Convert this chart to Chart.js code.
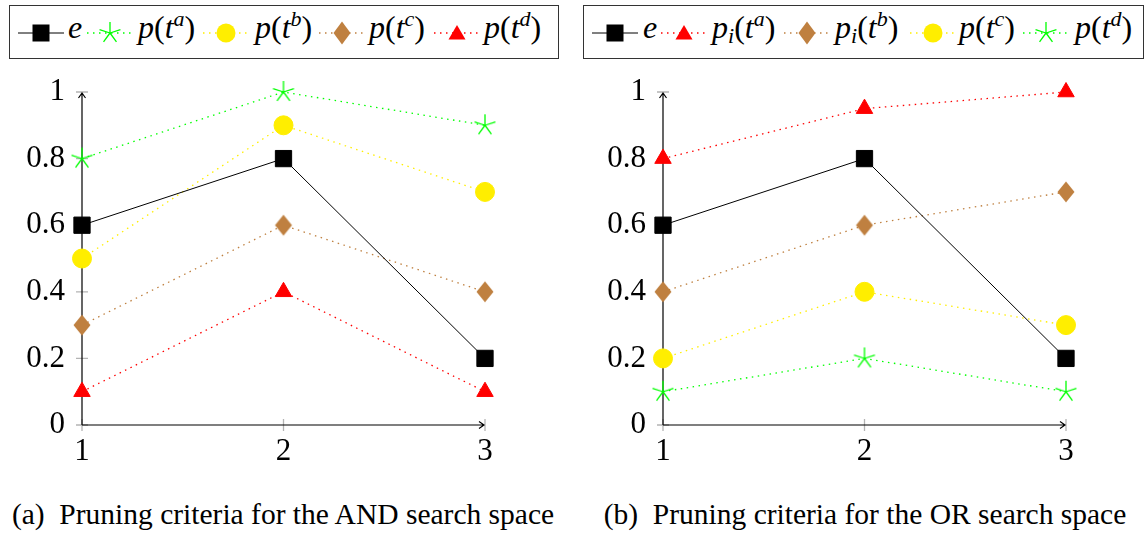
<!DOCTYPE html>
<html>
<head>
<meta charset="utf-8">
<script src="https://cdn.jsdelivr.net/npm/chart.js@4.4.0/dist/chart.umd.min.js"></script>
<style>
  body { margin: 0; width: 1145px; height: 534px; background: #fff; position: relative; overflow: hidden; font-family: "Liberation Serif", serif; }
  .panel { position: absolute; top: 70px; }
  .box { position: absolute; top: 5px; height: 54px; border: 1.4px solid #333; box-sizing: border-box; }
  .mk { position: absolute; top: 21px; height: 24px; }
  .lab { position: absolute; top: 11px; font-size: 32px; line-height: 1; font-style: italic; white-space: nowrap; color: #000; }
  .lab .u { font-style: normal; }
  .lab .sup { font-size: 22px; position: relative; top: -12px; }
  .lab .sub { font-size: 22px; position: relative; top: 5px; }
  .cap { position: absolute; top: 498px; font-size: 29.5px; white-space: nowrap; transform: translateX(-50%); }
</style>
</head>
<body>
<div class="box" style="left:9px;width:550px"></div>
<div class="box" style="left:583px;width:561px"></div>
<div id="legA"></div>
<div id="legB"></div>
<div class="panel" style="left:0px"><canvas id="chartA" width="572" height="410"></canvas></div>
<div class="panel" style="left:581px"><canvas id="chartB" width="564" height="410"></canvas></div>
<div class="cap" style="left:283px">(a)&nbsp; Pruning criteria for the AND search space</div>
<div class="cap" style="left:865px">(b)&nbsp; Pruning criteria for the OR search space</div>
<script>
const xValues = [1, 2, 3];
const xTickLabels = ["1", "2", "3"];
const yTickLabels = ["0", "0.2", "0.4", "0.6", "0.8", "1"];

// (a) AND search space
const andE = [0.6, 0.8, 0.2];
const andPa = [0.8, 1, 0.9];
const andPb = [0.5, 0.9, 0.7];
const andPc = [0.3, 0.6, 0.4];
const andPd = [0.1, 0.4, 0.1];

// (b) OR search space
const orE = [0.6, 0.8, 0.2];
const orPia = [0.8, 0.95, 1];
const orPib = [0.4, 0.6, 0.7];
const orPc = [0.2, 0.4, 0.3];
const orPd = [0.1, 0.2, 0.1];

const GREEN = "#00ff00";
const YELLOW = "#ffee00";
const BROWN = "#bf8040";
const RED = "#ff0000";
const FONT = "'Liberation Serif', serif";

const makeStar = (color) => {
  const c = document.createElement("canvas");
  c.width = 26; c.height = 26;
  const g = c.getContext("2d");
  g.strokeStyle = color;
  g.lineWidth = 1.3;
  g.beginPath();
  for (let k = 0; k < 5; k++) {
    const a = -Math.PI / 2 + k * 2 * Math.PI / 5;
    g.moveTo(13, 13);
    g.lineTo(13 + 11 * Math.cos(a), 13 + 11 * Math.sin(a));
  }
  g.stroke();
  return c;
};

const makeDiamond = (color) => {
  const c = document.createElement("canvas");
  c.width = 20; c.height = 24;
  const g = c.getContext("2d");
  g.fillStyle = color;
  g.beginPath();
  g.moveTo(10, 1.5); g.lineTo(18.5, 12); g.lineTo(10, 22.5); g.lineTo(1.5, 12);
  g.closePath();
  g.fill();
  return c;
};

const starImg = makeStar(GREEN);
const diamondImg = makeDiamond(BROWN);

const toPoints = (vals) => vals.map((v, i) => ({ x: xValues[i], y: v }));

const series = (label, vals, color, style, radius, solid) => ({
  label,
  data: toPoints(vals),
  borderColor: color,
  backgroundColor: color,
  borderWidth: solid ? 1 : 1.3,
  borderDash: solid ? [] : [1.5, 4.5],
  pointStyle: style,
  pointRadius: radius,
  pointBackgroundColor: color,
  pointBorderColor: color,
  pointBorderWidth: 1,
  tension: 0,
  clip: false,
});

const axesPlugin = {
  id: "axes",
  beforeDatasetsDraw(chart) {
    const { ctx, scales: { x, y } } = chart;
    const x0 = x.getPixelForValue(1), x1 = x.getPixelForValue(3);
    const y0 = y.getPixelForValue(0), y1 = y.getPixelForValue(1);
    ctx.save();
    ctx.strokeStyle = "#b4b4b4";
    ctx.lineWidth = 1.3;
    ctx.beginPath();
    y.ticks.forEach((t) => {
      const py = y.getPixelForValue(t.value);
      ctx.moveTo(x0 - 6, py); ctx.lineTo(x0 + 6, py);
    });
    x.ticks.forEach((t) => {
      const px = x.getPixelForValue(t.value);
      ctx.moveTo(px, y0 - 6); ctx.lineTo(px, y0 + 6);
    });
    ctx.stroke();
    ctx.strokeStyle = "#000";
    ctx.lineWidth = 1.2;
    ctx.beginPath();
    ctx.moveTo(x0, y0); ctx.lineTo(x0, y1 + 1);
    ctx.moveTo(x0, y0); ctx.lineTo(x1 - 1, y0);
    ctx.moveTo(x0 - 3.5, y1 + 6); ctx.lineTo(x0, y1 + 1); ctx.lineTo(x0 + 3.5, y1 + 6);
    ctx.moveTo(x1 - 6, y0 - 3.5); ctx.lineTo(x1 - 1, y0); ctx.lineTo(x1 - 6, y0 + 3.5);
    ctx.stroke();
    ctx.restore();
  },
};

const makeChart = (id, datasets, padRight) => {
  new Chart(document.getElementById(id), {
    type: "line",
    data: { datasets },
    options: {
      responsive: false,
      animation: false,
      layout: { padding: { top: 22, right: padRight, bottom: 0, left: 0 } },
      plugins: { legend: { display: false }, tooltip: { enabled: false } },
      scales: {
        x: {
          type: "linear", min: 1, max: 3,
          afterBuildTicks: (s) => { s.ticks = xValues.map((v) => ({ value: v })); },
          afterFit: (s) => { s.height = 55; s.paddingLeft = 0; s.paddingRight = 0; },
          grid: { display: false, drawTicks: false },
          border: { display: false },
          ticks: { padding: 8, color: "#000", font: { family: FONT, size: 31 }, maxRotation: 0,
            callback: (v, i) => xTickLabels[i] },
        },
        y: {
          type: "linear", min: 0, max: 1,
          afterBuildTicks: (s) => { s.ticks = yTickLabels.map((v) => ({ value: Number(v) })); },
          afterFit: (s) => { s.width = 82; s.paddingTop = 0; s.paddingBottom = 0; },
          grid: { display: false, drawTicks: false },
          border: { display: false },
          ticks: { padding: 17, color: "#000", font: { family: FONT, size: 31 },
            callback: (v, i) => yTickLabels[i] },
        },
      },
    },
    plugins: [axesPlugin],
  });
};

makeChart("chartA", [
  series("e", andE, "#000", "rect", 11.5, true),
  series("p(t^a)", andPa, GREEN, starImg, 11, false),
  series("p(t^b)", andPb, YELLOW, "circle", 9.5, false),
  series("p(t^c)", andPc, BROWN, diamondImg, 10, false),
  series("p(t^d)", andPd, RED, "triangle", 9.5, false),
], 87);

makeChart("chartB", [
  series("e", orE, "#000", "rect", 11.5, true),
  series("p_i(t^a)", orPia, RED, "triangle", 9.5, false),
  series("p_i(t^b)", orPib, BROWN, diamondImg, 10, false),
  series("p(t^c)", orPc, YELLOW, "circle", 9.5, false),
  series("p(t^d)", orPd, GREEN, starImg, 11, false),
], 79);

// legend (html, so the super/subscripts stay real text)
const markerSvg = (shape, color) => {
  const cx = 23;
  if (shape === "rect") return `<rect x="${cx - 8.5}" y="3.5" width="17" height="17" fill="${color}"/>`;
  if (shape === "circle") return `<circle cx="${cx}" cy="12" r="9.5" fill="${color}"/>`;
  if (shape === "diamond") return `<polygon points="${cx},0.5 ${cx + 8.5},12 ${cx},23.5 ${cx - 8.5},12" fill="${color}"/>`;
  if (shape === "triangle") return `<polygon points="${cx},4 ${cx + 8.5},18.5 ${cx - 8.5},18.5" fill="${color}"/>`;
  let d = "";
  for (let k = 0; k < 5; k++) {
    const a = -Math.PI / 2 + k * 2 * Math.PI / 5;
    d += `M${cx} 12 L${(cx + 11 * Math.cos(a)).toFixed(2)} ${(12 + 11 * Math.sin(a)).toFixed(2)} `;
  }
  return `<path d="${d}" stroke="${color}" stroke-width="1.3" fill="none"/>`;
};

const legendItem = (lineLeft, labelLeft, shape, color, solid, html) => {
  const dash = solid ? "" : ` stroke-dasharray="1.5 4.5"`;
  return `<svg class="mk" style="left:${lineLeft}px" width="46" height="24">` +
    `<line x1="0" y1="12" x2="46" y2="12" stroke="${color}" stroke-width="${solid ? 1 : 1.3}"${dash}/>` +
    markerSvg(shape, color) + `</svg>` +
    `<span class="lab" style="left:${labelLeft}px">${html}</span>`;
};

const pt = (base, sup, sub) =>
  `${base}${sub ? `<span class="sub">${sub}</span>` : ""}<span class="u">(</span>t<span class="sup">${sup}</span><span class="u">)</span>`;

document.getElementById("legA").innerHTML =
  legendItem(18, 68, "rect", "#000", true, "e") +
  legendItem(87, 138, "star", GREEN, false, pt("p", "a")) +
  legendItem(203, 255, "circle", YELLOW, false, pt("p", "b")) +
  legendItem(319, 369, "diamond", BROWN, false, pt("p", "c")) +
  legendItem(434, 484, "triangle", RED, false, pt("p", "d"));

document.getElementById("legB").innerHTML =
  legendItem(592, 643, "rect", "#000", true, "e") +
  legendItem(661, 712, "triangle", RED, false, pt("p", "a", "i")) +
  legendItem(784, 835, "diamond", BROWN, false, pt("p", "b", "i")) +
  legendItem(910, 959, "circle", YELLOW, false, pt("p", "c")) +
  legendItem(1023, 1075, "star", GREEN, false, pt("p", "d"));
</script>
</body>
</html>
